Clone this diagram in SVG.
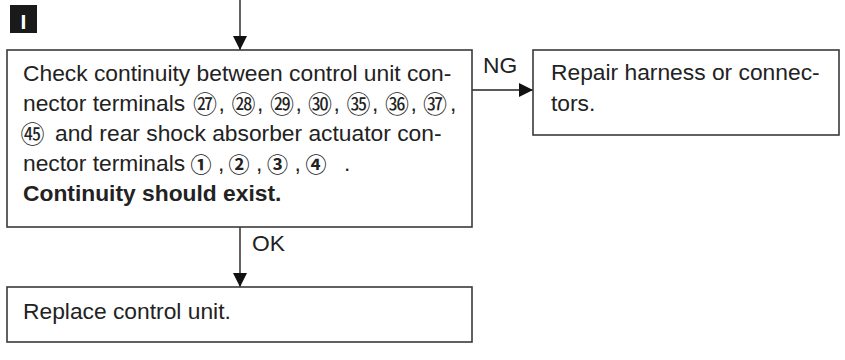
<svg xmlns="http://www.w3.org/2000/svg" width="845" height="360" viewBox="0 0 845 360">
<defs>
<style>
.box{fill:#fff;stroke:#3a3a3a;stroke-width:1.6}
.ln{stroke:#222;stroke-width:1.4;fill:none}
.t{font-family:"Liberation Sans",Arial,sans-serif;font-size:22.8px;fill:#222}
.b{font-weight:bold}
.c{font-family:"Noto Sans CJK JP","DejaVu Sans",sans-serif;font-size:21px;fill:#222}
.c2{font-size:24px}
.cb{font-weight:bold}
</style>
<marker id="ah" markerWidth="14" markerHeight="14" refX="14" refY="7" orient="auto" markerUnits="userSpaceOnUse">
<path d="M0,0 L14,7 L0,14 Z" fill="#111"/>
</marker>
</defs>
<rect x="0" y="0" width="845" height="360" fill="#fff"/>
<g id="badge">
<rect x="10" y="5" width="27" height="28" fill="#1a1a1a"/>
<text x="23.5" y="28.5" text-anchor="middle" font-family="Liberation Sans,Arial,sans-serif" font-weight="bold" font-size="21" fill="#fff">I</text>
</g>
<g id="connectors">
<line class="ln" x1="240" y1="0" x2="240" y2="50" marker-end="url(#ah)"/>
<line class="ln" x1="472" y1="90" x2="533" y2="90" marker-end="url(#ah)"/>
<line class="ln" x1="240" y1="227" x2="240" y2="287" marker-end="url(#ah)"/>
<text class="t" x="483" y="73">NG</text>
<text class="t" x="252" y="251">OK</text>
</g>
<g id="check">
<rect class="box" x="7" y="50" width="465" height="177"/>
<text class="t" x="23" y="81">Check continuity between control unit con-</text>
<text class="t" x="23" y="111">nector terminals</text>
<text class="c c2" y="112.5" text-anchor="middle"><tspan x="205">㉗</tspan><tspan x="243.5">㉘</tspan><tspan x="282">㉙</tspan><tspan x="320">㉚</tspan><tspan x="358.5">㉟</tspan><tspan x="397">㊱</tspan><tspan x="435">㊲</tspan></text>
<text class="t" y="111"><tspan x="218.5">,</tspan><tspan x="257">,</tspan><tspan x="295.5">,</tspan><tspan x="333.5">,</tspan><tspan x="372">,</tspan><tspan x="410.5">,</tspan><tspan x="450">,</tspan></text>
<text class="c c2" x="32.5" y="142.5" text-anchor="middle">㊺</text>
<text class="t" x="55" y="141">and rear shock absorber actuator con-</text>
<text class="t" x="23" y="171">nector terminals</text>
<text class="c cb" y="172" text-anchor="middle"><tspan x="201">①</tspan><tspan x="239">②</tspan><tspan x="277.5">③</tspan><tspan x="316">④</tspan></text>
<text class="t" y="171"><tspan x="218">,</tspan><tspan x="256">,</tspan><tspan x="294.5">,</tspan><tspan x="344">.</tspan></text>
<text class="t b" x="23" y="201">Continuity should exist.</text>
</g>
<g id="repair">
<rect class="box" x="533" y="50" width="306" height="85"/>
<text class="t" x="551" y="80">Repair harness or connec-</text>
<text class="t" x="551" y="111">tors.</text>
</g>
<g id="replace">
<rect class="box" x="7" y="287" width="465" height="55"/>
<text class="t" x="23" y="319">Replace control unit.</text>
</g>
</svg>
